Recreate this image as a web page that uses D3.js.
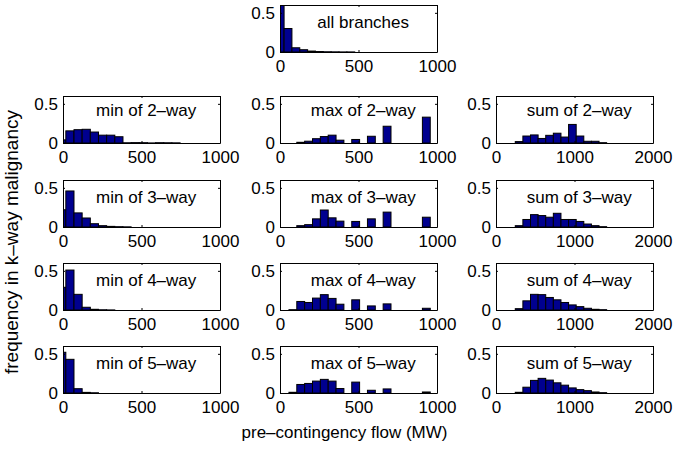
<!DOCTYPE html>
<html>
<head>
<meta charset="utf-8">
<script src="https://cdn.jsdelivr.net/npm/d3@7"></script>
<style>
body { margin: 0; background: #fff; }
svg { display: block; background: #fff; }
</style>
</head>
<body>
<svg id="chart" width="699" height="464"></svg>
<script>
// tick labels
const xTicks1000 = [0, 500, 1000];
const xTicks2000 = [0, 1000, 2000];
const yTicks = [0, 0.5];

// histogram bin centres (MW)
const allCenters = [1, 51, 101, 151, 201, 251, 301, 351, 401, 451];
const minCenters = [-8, 44, 96, 148, 200, 252, 304, 356, 408, 460, 512, 564, 616, 668, 720];
const maxCenters = [82, 132, 182, 232, 282, 332, 382, 432, 482, 532, 582, 632, 682, 732, 782, 832, 882, 932];
const sumCenters = [294, 391, 488, 585, 682, 779, 876, 973, 1070, 1167, 1264, 1361];

// frequencies
const allBranches = [0.62, 0.30, 0.054, 0.029, 0.012, 0.006, 0.003, 0.002, 0.001, 0.001];
const min2 = [0.04, 0.155, 0.17, 0.175, 0.14, 0.10, 0.10, 0.08, 0.003, 0.005, 0.004, 0.001, 0.004, 0.003, 0.002];
const min3 = [0.22, 0.46, 0.18, 0.115, 0.042, 0.017, 0.008, 0.004, 0.002];
const min4 = [0.29, 0.51, 0.2, 0.035, 0.009, 0.003, 0.001];
const min5 = [0.52, 0.43, 0.055, 0.008, 0.003];
const max2 = [0, 0.009, 0.023, 0.055, 0.082, 0.10, 0.036, 0, 0.045, 0, 0.086, 0, 0.214, 0, 0, 0, 0, 0.33];
const max3 = [0, 0.017, 0.03, 0.104, 0.217, 0.117, 0.075, 0, 0.071, 0, 0.104, 0, 0.19, 0, 0, 0, 0, 0.125];
const max4 = [0.004, 0.109, 0.096, 0.152, 0.196, 0.148, 0.074, 0, 0.13, 0, 0.052, 0, 0.078, 0, 0, 0, 0, 0.022];
const max5 = [0.009, 0.109, 0.122, 0.152, 0.174, 0.152, 0.057, 0, 0.139, 0, 0.035, 0, 0.052, 0, 0, 0, 0, 0.013];
const sum2 = [0.018, 0.089, 0.103, 0.058, 0.098, 0.125, 0.076, 0.237, 0.089, 0.022, 0.022, 0.004];
const sum3 = [0.017, 0.096, 0.158, 0.146, 0.125, 0.175, 0.096, 0.096, 0.071, 0.038, 0.017, 0.004];
const sum4 = [0.017, 0.117, 0.2, 0.196, 0.16, 0.13, 0.096, 0.065, 0.043, 0.022, 0.009, 0.004];
const sum5 = [0.009, 0.074, 0.161, 0.187, 0.165, 0.13, 0.1, 0.065, 0.043, 0.03, 0.013, 0.004];

const FONT = '"Liberation Sans", Arial, Helvetica, sans-serif';
const PANEL_W = 157;
const PANEL_H = 47;
const COLS = [63, 280, 496];
const ROW_BOTTOMS = [52, 143, 227, 310, 393];
const TITLE_Y = [0.38, 0.42, 0.38, 0.38, 0.38]; // height of the in-panel label, per row
const BAR_COLOR = '#00008f';

const panels = [
    {label: 'all branches', centers: allCenters, values: allBranches, xMax: 1000, col: 1, row: 0},
    {label: 'min of 2–way', centers: minCenters, values: min2, xMax: 1000, col: 0, row: 1},
    {label: 'max of 2–way', centers: maxCenters, values: max2, xMax: 1000, col: 1, row: 1},
    {label: 'sum of 2–way', centers: sumCenters, values: sum2, xMax: 2000, col: 2, row: 1},
    {label: 'min of 3–way', centers: minCenters, values: min3, xMax: 1000, col: 0, row: 2},
    {label: 'max of 3–way', centers: maxCenters, values: max3, xMax: 1000, col: 1, row: 2},
    {label: 'sum of 3–way', centers: sumCenters, values: sum3, xMax: 2000, col: 2, row: 2},
    {label: 'min of 4–way', centers: minCenters, values: min4, xMax: 1000, col: 0, row: 3},
    {label: 'max of 4–way', centers: maxCenters, values: max4, xMax: 1000, col: 1, row: 3},
    {label: 'sum of 4–way', centers: sumCenters, values: sum4, xMax: 2000, col: 2, row: 3},
    {label: 'min of 5–way', centers: minCenters, values: min5, xMax: 1000, col: 0, row: 4},
    {label: 'max of 5–way', centers: maxCenters, values: max5, xMax: 1000, col: 1, row: 4},
    {label: 'sum of 5–way', centers: sumCenters, values: sum5, xMax: 2000, col: 2, row: 4},
];

const svg = d3.select('#chart');

function styleAxis(sel) {
    sel.attr('font-family', FONT).attr('font-size', 17).attr('color', '#000');
    sel.selectAll('text').attr('fill', '#000');
}

panels.forEach((p, i) => {
    const left = COLS[p.col];
    const top = ROW_BOTTOMS[p.row] - PANEL_H;
    const x = d3.scaleLinear().domain([0, p.xMax]).range([0, PANEL_W]);
    const y = d3.scaleLinear().domain([0, 0.6]).range([PANEL_H, 0]);
    const g = svg.append('g').attr('transform', `translate(${left},${top})`);

    g.append('clipPath').attr('id', 'clip' + i)
        .append('rect').attr('width', PANEL_W).attr('height', PANEL_H);

    const binW = p.centers[1] - p.centers[0];
    g.append('g').attr('clip-path', `url(#clip${i})`)
        .selectAll('rect')
        .data(p.values)
        .enter()
        .append('rect')
        .attr('x', (d, j) => x(p.centers[j] - binW / 2))
        .attr('width', x(binW) - x(0))
        .attr('y', d => y(d))
        .attr('height', d => y(0) - y(d))
        .attr('fill', BAR_COLOR)
        .attr('stroke', '#000')
        .attr('stroke-width', 1);

    const xt = p.xMax === 2000 ? xTicks2000 : xTicks1000;
    // ticks point inward on all four sides, like a boxed matlab axes
    g.append('g').attr('transform', `translate(0,${PANEL_H})`)
        .call(d3.axisBottom(x).tickValues(xt).tickSizeInner(-2).tickSizeOuter(0).tickPadding(8).tickFormat(d => d))
        .call(styleAxis);
    g.append('g')
        .call(d3.axisTop(x).tickValues(xt).tickSizeInner(-2).tickSizeOuter(0).tickFormat(''))
        .call(styleAxis);
    g.append('g')
        .call(d3.axisLeft(y).tickValues(yTicks).tickSizeInner(-2).tickSizeOuter(0).tickPadding(5).tickFormat(d => d))
        .call(styleAxis);
    g.append('g').attr('transform', `translate(${PANEL_W},0)`)
        .call(d3.axisRight(y).tickValues(yTicks).tickSizeInner(-2).tickSizeOuter(0).tickFormat(''))
        .call(styleAxis);

    g.append('text')
        .attr('x', x(p.xMax * 0.53))
        .attr('y', y(TITLE_Y[p.row]))
        .attr('text-anchor', 'middle')
        .attr('dominant-baseline', 'central')
        .attr('font-family', FONT)
        .attr('font-size', 17)
        .text(p.label);
});

svg.append('text')
    .attr('transform', 'translate(11,242) rotate(-90)')
    .attr('text-anchor', 'middle')
    .attr('dominant-baseline', 'central')
    .attr('font-family', FONT)
    .attr('font-size', 19)
    .text('frequency in k–way malignancy');

svg.append('text')
    .attr('x', COLS[1] + PANEL_W / 2 - 14)
    .attr('y', 432)
    .attr('text-anchor', 'middle')
    .attr('dominant-baseline', 'central')
    .attr('font-family', FONT)
    .attr('font-size', 17)
    .text('pre–contingency flow (MW)');
</script>
</body>
</html>
